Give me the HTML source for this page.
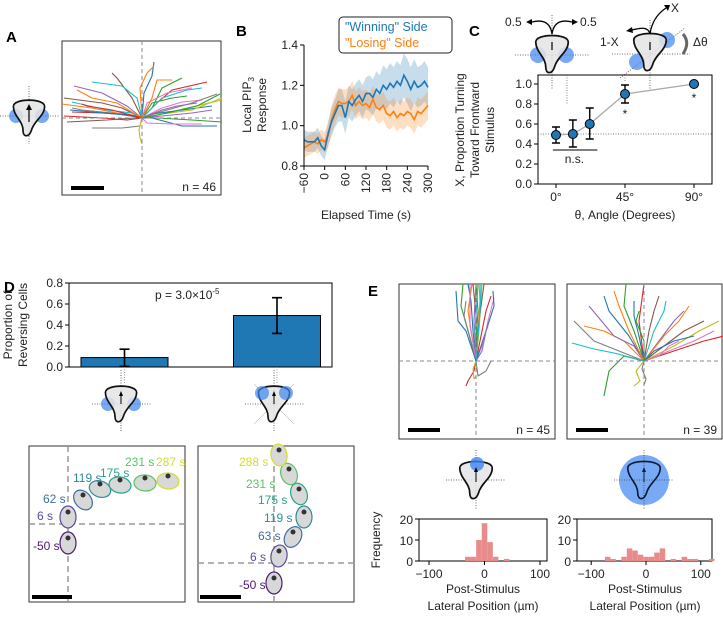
<!DOCTYPE html>
<html><head><meta charset="utf-8"><style>
body{margin:0;background:#fff}
svg{display:block;font-family:"Liberation Sans","DejaVu Sans",sans-serif}
.t{font-size:12px;fill:#222}
.lab{font-size:15px;font-weight:bold;fill:#000}
</style></head><body>
<svg id="fig" width="723" height="618" viewBox="0 0 723 618" xmlns="http://www.w3.org/2000/svg">
<defs>
<symbol id="cell" overflow="visible"><path d="M-13,-8 C-13,-15 13,-15 13,-8 C13,0 4,4 2,12 C0,18 -5,18 -5,12 C-5,4 -13,0 -13,-8 Z" fill="#e4e4e4" fill-opacity="0.85" stroke="#111" stroke-width="1.4"/></symbol>
</defs>
<!-- panel labels -->
<text class="lab" x="6" y="42">A</text>
<text class="lab" x="236" y="36">B</text>
<text class="lab" x="469" y="36">C</text>
<text class="lab" x="4" y="292">D</text>
<text class="lab" x="368" y="296">E</text>

<!-- Panel A -->
<g>
<line x1="0" y1="116" x2="60" y2="116" stroke="#444" stroke-dasharray="1,1.5" stroke-width="0.8"/>
<line x1="29" y1="86" x2="29" y2="144" stroke="#444" stroke-dasharray="1,1.5" stroke-width="0.8"/>
<circle cx="16" cy="116" r="7" fill="#3d85f0" fill-opacity="0.7"/><circle cx="42" cy="116" r="7" fill="#3d85f0" fill-opacity="0.7"/>
<use href="#cell" transform="translate(29,116) scale(1.2)"/>
<line x1="29" y1="122" x2="29" y2="108" stroke="#000" stroke-width="1.2"/><path d="M26,110 L29,104 L32,110Z"/>
</g>
<rect x="62" y="41" width="159" height="154" fill="#fff" stroke="#333" stroke-width="1"/>
<g id="aTracks"></g>
<line x1="142" y1="41" x2="142" y2="195" stroke="#888" stroke-dasharray="4,3"/>
<line x1="62" y1="118" x2="221" y2="118" stroke="#888" stroke-dasharray="4,3"/>
<line x1="71" y1="188" x2="104" y2="188" stroke="#000" stroke-width="4"/>
<text class="t" x="216" y="191" text-anchor="end" font-size="13">n = 46</text>

<!-- Panel B -->
<g id="panelB"></g>
<text class="t" transform="translate(251,105) rotate(-90)" text-anchor="middle">Local PIP<tspan font-size="8" dy="3">3</tspan></text>
<text class="t" transform="translate(266,105) rotate(-90)" text-anchor="middle">Response</text>
<text class="t" x="366" y="219" text-anchor="middle">Elapsed Time (s)</text>
<g>
<rect x="339" y="17" width="113" height="36" rx="4" fill="#fff" stroke="#222"/>
<text x="345" y="31" font-size="12.5" fill="#1f77b4">"Winning" Side</text>
<text x="345" y="47" font-size="12.5" fill="#ff7f0e">"Losing" Side</text>
</g>

<!-- Panel C -->
<g>
<line x1="515" y1="55" x2="590" y2="55" stroke="#444" stroke-dasharray="1,1.5" stroke-width="0.8"/>
<line x1="552" y1="15" x2="552" y2="90" stroke="#444" stroke-dasharray="1,1.5" stroke-width="0.8"/>
<circle cx="538" cy="55" r="8" fill="#3d85f0" fill-opacity="0.7"/><circle cx="566" cy="55" r="8" fill="#3d85f0" fill-opacity="0.7"/>
<use href="#cell" transform="translate(552,52) scale(1.25)"/>
<line x1="552" y1="50" x2="552" y2="42" stroke="#000" stroke-width="1.2"/>
<path d="M552,34 C550,20 540,20 532,22 M552,34 C554,20 564,20 572,22" fill="none" stroke="#000" stroke-width="1.3"/>
<path d="M532,19 L526,22 L532,25Z M572,19 L578,22 L572,25Z"/>
<text class="t" x="505" y="26" font-size="13">0.5</text><text class="t" x="580" y="26" font-size="13">0.5</text>
<line x1="612" y1="54" x2="690" y2="54" stroke="#444" stroke-dasharray="1,1.5" stroke-width="0.8"/>
<line x1="650" y1="20" x2="650" y2="90" stroke="#444" stroke-dasharray="1,1.5" stroke-width="0.8"/>
<line x1="620" y1="78" x2="685" y2="28" stroke="#444" stroke-dasharray="1,1.5" stroke-width="0.8"/>
<circle cx="637" cy="62" r="8" fill="#3d85f0" fill-opacity="0.7"/><circle cx="667" cy="40" r="8" fill="#3d85f0" fill-opacity="0.7"/>
<use href="#cell" transform="translate(650,50) scale(1.25)"/>
<line x1="650" y1="50" x2="650" y2="42" stroke="#000" stroke-width="1.2"/>
<path d="M650,34 C648,26 640,28 632,30 M650,34 C652,20 660,12 666,8" fill="none" stroke="#000" stroke-width="1.3"/>
<path d="M632,27 L626,31 L633,33Z M664,5 L670,5 L668,11Z"/>
<text class="t" x="671" y="12" font-size="13">X</text><text class="t" x="600" y="46" font-size="13">1-X</text>
<path d="M683,54 C688,46 688,40 683,34" fill="none" stroke="#666" stroke-width="3"/>
<text class="t" x="693" y="46" font-size="13">Δθ</text>
</g>
<g id="panelC"></g>
<text class="t" transform="translate(464,130) rotate(-90)" text-anchor="middle">X, Proportion Turning</text>
<text class="t" transform="translate(479,130) rotate(-90)" text-anchor="middle">Toward Frontward</text>
<text class="t" transform="translate(494,130) rotate(-90)" text-anchor="middle">Stimulus</text>
<text class="t" x="625" y="219" text-anchor="middle">θ, Angle (Degrees)</text>

<!-- Panel D -->
<g id="panelD"></g>
<text class="t" transform="translate(12,325) rotate(-90)" text-anchor="middle">Proportion of</text>
<text class="t" transform="translate(27,325) rotate(-90)" text-anchor="middle">Reversing Cells</text>
<text class="t" x="155" y="299">p = 3.0×10<tspan font-size="8" dy="-5">-5</tspan></text>
<g>
<line x1="92" y1="404" x2="152" y2="404" stroke="#444" stroke-dasharray="1,1.5" stroke-width="0.8"/>
<line x1="121" y1="370" x2="121" y2="432" stroke="#444" stroke-dasharray="1,1.5" stroke-width="0.8"/>
<circle cx="108" cy="404" r="7" fill="#3d85f0" fill-opacity="0.7"/><circle cx="134" cy="404" r="7" fill="#3d85f0" fill-opacity="0.7"/>
<use href="#cell" transform="translate(121,402) scale(1.2)"/><line x1="121" y1="404" x2="121" y2="394" stroke="#000"/><path d="M119,396 L121,391 L123,396Z"/>
</g>
<g>
<line x1="245" y1="404" x2="305" y2="404" stroke="#444" stroke-dasharray="1,1.5" stroke-width="0.8"/>
<line x1="274" y1="370" x2="274" y2="432" stroke="#444" stroke-dasharray="1,1.5" stroke-width="0.8"/>
<line x1="254" y1="384" x2="294" y2="424" stroke="#999" stroke-width="0.5"/><line x1="294" y1="384" x2="254" y2="424" stroke="#999" stroke-width="0.5"/>
<use href="#cell" transform="translate(274,402) scale(1.2)"/>
<circle cx="262" cy="393" r="7" fill="#3d85f0" fill-opacity="0.7"/><circle cx="286" cy="393" r="7" fill="#3d85f0" fill-opacity="0.7"/>
<line x1="274" y1="404" x2="274" y2="394" stroke="#000"/><path d="M272,396 L274,391 L276,396Z"/>
</g>
<rect x="29" y="446" width="156" height="156" fill="#fff" stroke="#333"/>
<rect x="198" y="446" width="156" height="156" fill="#fff" stroke="#333"/>
<line x1="68" y1="446" x2="68" y2="602" stroke="#999" stroke-dasharray="6,4" stroke-width="1.5"/>
<line x1="29" y1="524" x2="185" y2="524" stroke="#999" stroke-dasharray="6,4" stroke-width="1.5"/>
<line x1="274" y1="446" x2="274" y2="602" stroke="#999" stroke-dasharray="6,4" stroke-width="1.5"/>
<line x1="198" y1="563" x2="354" y2="563" stroke="#999" stroke-dasharray="6,4" stroke-width="1.5"/>
<g id="dCells"></g>
<line x1="32" y1="597" x2="72" y2="597" stroke="#000" stroke-width="4"/>
<line x1="200" y1="597" x2="241" y2="597" stroke="#000" stroke-width="4"/>

<!-- Panel E -->
<rect x="399" y="284" width="156" height="155" fill="#fff" stroke="#333"/>
<rect x="567" y="284" width="155" height="155" fill="#fff" stroke="#333"/>
<g id="eTracks"></g>
<line x1="476" y1="284" x2="476" y2="439" stroke="#888" stroke-dasharray="4,3"/>
<line x1="399" y1="361" x2="555" y2="361" stroke="#888" stroke-dasharray="4,3"/>
<line x1="644" y1="284" x2="644" y2="439" stroke="#888" stroke-dasharray="4,3"/>
<line x1="567" y1="361" x2="722" y2="361" stroke="#888" stroke-dasharray="4,3"/>
<line x1="408" y1="430" x2="440" y2="430" stroke="#000" stroke-width="4"/>
<line x1="576" y1="430" x2="608" y2="430" stroke="#000" stroke-width="4"/>
<text class="t" x="550" y="434" text-anchor="end" font-size="13">n = 45</text>
<text class="t" x="717" y="434" text-anchor="end" font-size="13">n = 39</text>
<g>
<line x1="446" y1="480" x2="506" y2="480" stroke="#444" stroke-dasharray="1,1.5" stroke-width="0.8"/>
<line x1="476" y1="450" x2="476" y2="510" stroke="#444" stroke-dasharray="1,1.5" stroke-width="0.8"/>
<use href="#cell" transform="translate(476,478) scale(1.25)"/>
<circle cx="477" cy="464" r="7" fill="#3d85f0" fill-opacity="0.8"/>
<line x1="476" y1="482" x2="476" y2="470" stroke="#000"/><path d="M474,472 L476,467 L478,472Z"/>
</g>
<g>
<circle cx="644" cy="480" r="25" fill="#3d85f0" fill-opacity="0.7"/>
<line x1="614" y1="480" x2="674" y2="480" stroke="#444" stroke-dasharray="1,1.5" stroke-width="0.8"/>
<line x1="644" y1="450" x2="644" y2="510" stroke="#444" stroke-dasharray="1,1.5" stroke-width="0.8"/>
<path transform="translate(644,478) scale(1.25)" d="M-13,-8 C-13,-15 13,-15 13,-8 C13,0 4,4 2,12 C0,18 -5,18 -5,12 C-5,4 -13,0 -13,-8 Z" fill="none" stroke="#0a1a3a" stroke-width="1.3"/>
<line x1="644" y1="482" x2="644" y2="470" stroke="#0a1a3a"/><path d="M642,472 L644,467 L646,472Z" fill="#0a1a3a"/>
</g>
<g id="panelE"></g>
<text class="t" transform="translate(380,540) rotate(-90)" text-anchor="middle">Frequency</text>
<text class="t" x="483" y="593" text-anchor="middle">Post-Stimulus</text>
<text class="t" x="483" y="610" text-anchor="middle">Lateral Position (µm)</text>
<text class="t" x="645" y="593" text-anchor="middle">Post-Stimulus</text>
<text class="t" x="645" y="610" text-anchor="middle">Lateral Position (µm)</text>
</svg>
<script>
const NS='http://www.w3.org/2000/svg';
// ---- Panel B data ----
const bTimes=[-60,-50,-40,-30,-20,-10,0,10,20,30,40,50,60,70,80,90,100,110,120,130,140,150,160,170,180,190,200,210,220,230,240,250,260,270,280,290,300];
const bWinning=[0.93,0.92,0.92,0.92,0.94,0.90,0.88,0.96,1.02,1.06,1.10,1.10,1.04,1.12,1.10,1.13,1.15,1.12,1.16,1.16,1.14,1.18,1.16,1.20,1.18,1.21,1.19,1.22,1.20,1.25,1.22,1.18,1.22,1.19,1.20,1.22,1.19];
const bLosing=[0.89,0.90,0.91,0.92,0.91,0.93,0.92,0.95,1.03,1.08,1.12,1.11,1.11,1.12,1.15,1.10,1.12,1.10,1.11,1.09,1.13,1.09,1.08,1.10,1.06,1.05,1.07,1.04,1.06,1.05,1.07,1.06,1.03,1.07,1.06,1.08,1.10];
const bWinErr=[0.05,0.05,0.05,0.05,0.05,0.05,0.05,0.06,0.07,0.07,0.08,0.08,0.08,0.08,0.08,0.08,0.08,0.08,0.08,0.09,0.09,0.09,0.09,0.10,0.10,0.10,0.10,0.10,0.10,0.11,0.11,0.11,0.11,0.10,0.10,0.10,0.10];
const bLoseErr=[0.05,0.05,0.05,0.05,0.05,0.05,0.05,0.06,0.07,0.07,0.07,0.07,0.07,0.07,0.07,0.07,0.07,0.07,0.07,0.07,0.07,0.07,0.07,0.07,0.07,0.07,0.07,0.07,0.07,0.07,0.07,0.07,0.07,0.07,0.07,0.07,0.07];
const bYTicks=[0.8,1.0,1.2,1.4];
const bXTicks=[-60,0,60,120,180,240,300];
// ---- Panel C data ----
const cAngles=[0,11,22,45,90];
const cValues=[0.49,0.50,0.60,0.90,1.00];
const cLow=[0.41,0.37,0.45,0.81,1.00];
const cHigh=[0.57,0.64,0.76,0.99,1.00];
const cYTicks=[0.0,0.2,0.4,0.6,0.8,1.0];
const cXTicks=[0,45,90];
// ---- Panel D data ----
const dCategories=['side','front'];
const dValues=[0.09,0.49];
const dLow=[0.005,0.32];
const dHigh=[0.17,0.66];
const dYTicks=[0.0,0.2,0.4,0.6,0.8];
// ---- Panel E data ----
const eLeftBins=[-35,-25,-15,-5,5,15,25,35];
const eLeftCounts=[2,2,10,18,9,2,0,1];
const eRightBins=[-75,-65,-55,-45,-35,-25,-15,-5,5,15,25,35,45,55,65,75,85,95,105,115];
const eRightCounts=[2,1,0,2,6,5,3,2,2,4,6,0,1,0,2,1,1,0,0,1];
const eYTicks=[0,10,20];
const eXTicks=[-100,0,100];

function mk(tag,attrs,parent){const e=document.createElementNS(NS,tag);for(const k in attrs)e.setAttribute(k,attrs[k]);parent.appendChild(e);return e;}
function txt(parent,x,y,s,anchor,extra){const e=mk('text',Object.assign({x:x,y:y,'class':'t','text-anchor':anchor||'middle'},extra||{}),parent);e.textContent=s;return e;}

// ---- Panel B ----
(function(){
const g=document.getElementById('panelB');
const L=304,R=428,T=45,B=166;
const xs=t=>L+(t+60)/360*(R-L), ys=v=>B-(v-0.8)/0.6*(B-T);
function band(vals,err,color,name){
 let d='M';bTimes.forEach((t,i)=>d+=xs(t)+','+ys(vals[i]+err[i])+' L');
 for(let i=bTimes.length-1;i>=0;i--)d+=xs(bTimes[i])+','+ys(vals[i]-err[i])+(i?' L':' Z');
 const p=mk('path',{d:d,fill:color,'fill-opacity':0.25},g);
 
 
}
function line(vals,color,name){
 const p=mk('polyline',{points:bTimes.map((t,i)=>xs(t)+','+ys(vals[i])).join(' '),fill:'none',stroke:color,'stroke-width':1.6},g);
 
 
}
band(bWinning,bWinErr,'#1f77b4','winning-band');band(bLosing,bLoseErr,'#ff7f0e','losing-band');
line(bLosing,'#ff7f0e','losing-line');line(bWinning,'#1f77b4','winning-line');
mk('line',{x1:L,y1:T,x2:L,y2:B,stroke:'#000'},g);mk('line',{x1:L,y1:B,x2:R,y2:B,stroke:'#000'},g);
bYTicks.forEach(v=>{mk('line',{x1:L-4,y1:ys(v),x2:L,y2:ys(v),stroke:'#000'},g);const t=txt(g,L-6,ys(v)+4,v.toFixed(1),'end');});
bXTicks.forEach(v=>{mk('line',{x1:xs(v),y1:B,x2:xs(v),y2:B+4,stroke:'#000'},g);const t=txt(g,0,0,(v<0?'\u2212'+(-v):''+v),'end',{transform:'translate('+(xs(v)+4)+','+(B+7)+') rotate(-90)'});});
})();

// ---- Panel C ----
(function(){
const g=document.getElementById('panelC');
const L=538,R=712,T=75,B=184;
const xs=a=>556+a/90*138, ys=v=>B-v*100;
mk('rect',{x:L,y:T,width:R-L,height:B-T,fill:'none',stroke:'#000'},g);
mk('line',{x1:L,y1:ys(0.5),x2:R,y2:ys(0.5),stroke:'#555','stroke-dasharray':'1,1.5','stroke-width':0.8},g);
mk('line',{x1:xs(45),y1:T,x2:xs(45),y2:ys(cValues[3])-12,stroke:'#555','stroke-dasharray':'1,1.5','stroke-width':0.7},g);
mk('line',{x1:xs(90)-127,y1:T,x2:xs(90)-127,y2:ys(1.0)+20,stroke:'#555','stroke-dasharray':'1,1.5','stroke-width':0.7},g);
mk('polyline',{points:cAngles.slice(2).map((a,i)=>xs(a)+','+ys(cValues[i+2])).join(' '),fill:'none',stroke:'#aaa','stroke-width':1.3},g);
mk('line',{x1:xs(0),y1:ys(cValues[0]),x2:xs(cAngles[1]),y2:ys(cValues[1]),stroke:'#aaa','stroke-width':1.3},g);
mk('line',{x1:xs(cAngles[1]),y1:ys(cValues[1]),x2:xs(cAngles[2]),y2:ys(cValues[2]),stroke:'#aaa','stroke-width':1.3},g);
cAngles.forEach((a,i)=>{
 const x=xs(a);
 const eb=mk('path',{d:'M'+x+','+ys(cLow[i])+' V'+ys(cHigh[i])+' M'+(x-4)+','+ys(cLow[i])+' h8 M'+(x-4)+','+ys(cHigh[i])+' h8',stroke:'#000','stroke-width':1.4,fill:'none'},g);
 
 
 const c=mk('circle',{cx:x,cy:ys(cValues[i]),r:4.5,fill:'#1f77b4',stroke:'#000','stroke-width':1},g);
 
 
});
txt(g,xs(45),ys(cValues[3])+24,'*','middle',{'font-size':'14'});
txt(g,xs(90),ys(1)+18,'*','middle',{'font-size':'14'});
mk('line',{x1:xs(-2),y1:ys(0.34),x2:xs(27),y2:ys(0.34),stroke:'#000'},g);
txt(g,xs(12),ys(0.25)+4,'n.s.','middle');
cYTicks.forEach(v=>{mk('line',{x1:L-4,y1:ys(v),x2:L,y2:ys(v),stroke:'#000'},g);const t=txt(g,L-6,ys(v)+4,v.toFixed(1),'end');});
cXTicks.forEach(v=>{mk('line',{x1:xs(v),y1:B,x2:xs(v),y2:B+4,stroke:'#000'},g);const t=txt(g,xs(v),B+17,v+'°','middle');});
})();

// ---- Panel D ----
(function(){
const g=document.getElementById('panelD');
const L=69,R=332,T=283,B=367;
const ys=v=>B-v/0.8*(B-T);
const centers=[124.5,277], bw=87;
mk('rect',{x:L,y:T,width:R-L,height:B-T,fill:'none',stroke:'#000'},g);
dValues.forEach((v,i)=>{
 const r=mk('rect',{x:centers[i]-bw/2,y:ys(v),width:bw,height:B-ys(v),fill:'#1f77b4',stroke:'#000','stroke-width':1},g);
 
 
 const eb=mk('path',{d:'M'+centers[i]+','+ys(dLow[i])+' V'+ys(dHigh[i])+' M'+(centers[i]-5)+','+ys(dLow[i])+' h10 M'+(centers[i]-5)+','+ys(dHigh[i])+' h10',stroke:'#000','stroke-width':1.6,fill:'none'},g);
 
 
});
dYTicks.forEach(v=>{mk('line',{x1:L-4,y1:ys(v),x2:L,y2:ys(v),stroke:'#000'},g);const t=txt(g,L-6,ys(v)+4,v.toFixed(1),'end');});
mk('line',{x1:centers[0],y1:B,x2:centers[0],y2:B+16,stroke:'#999','stroke-dasharray':'1,1.5'},g);
mk('line',{x1:centers[1],y1:B,x2:centers[1],y2:B+16,stroke:'#999','stroke-dasharray':'1,1.5'},g);
})();

// ---- Panel D timelapse cells ----
(function(){
const g=document.getElementById('dCells');
const cells=[
 ['-50 s',68,543,'#4b1a6e',33,550,0],['6 s',68,517,'#5b4a9c',37,520,0],['62 s',83,500,'#3f6da3',43,503,-40],['119 s',100,489,'#2e8b9a',73,482,-70],['175 s',120,485,'#27a58a',100,477,-80],['231 s',145,483,'#5cc463',125,466,-85],['287 s',168,481,'#d6dd2a',156,466,-85],
 ['-50 s',274,583,'#4b1a6e',239,589,0],['6 s',279,556,'#5b4a9c',250,561,10],['63 s',293,537,'#3f6da3',258,540,30],['119 s',304,517,'#2e8b9a',264,522,0],['175 s',299,494,'#27a58a',258,504,-20],['231 s',289,474,'#5cc463',246,488,-20],['288 s',279,455,'#d6dd2a',239,466,-10]];
cells.forEach(c=>{
 const e=mk('ellipse',{cx:c[1],cy:c[2],rx:8,ry:11,fill:'#d8d8d8',stroke:c[3],'stroke-width':1.2,transform:'rotate('+c[6]+','+c[1]+','+c[2]+')'},g);
 
 
 mk('circle',{cx:c[1],cy:c[2]-5,r:2.5,fill:'#333'},g);
 const t=txt(g,c[4],c[5],c[0],'start',{'font-size':'12.5',fill:c[3],style:'fill:'+c[3]});
 
 
});
})();

// ---- Panel E histograms ----
(function(){
const g=document.getElementById('panelE');
function hist(L,R,x0,sc,bins,counts,name){
 const T=519,B=561,ys=v=>B-v*2.1,xs=v=>x0+v*sc;
 mk('rect',{x:L,y:T,width:R-L,height:B-T,fill:'none',stroke:'#000'},g);
 bins.forEach((b,i)=>{ if(!counts[i])return;
  const r=mk('rect',{x:xs(b),y:ys(counts[i]),width:10*sc,height:B-ys(counts[i]),fill:'#e88b8b'},g);
  
  
 });
 eYTicks.forEach(v=>{mk('line',{x1:L-4,y1:ys(v),x2:L,y2:ys(v),stroke:'#000'},g);const t=txt(g,L-6,ys(v)+5,''+v,'end',{'font-size':'13'});});
 eXTicks.forEach(v=>{mk('line',{x1:xs(v),y1:B,x2:xs(v),y2:B+4,stroke:'#000'},g);const t=txt(g,xs(v),B+17,(v<0?'\u2212'+(-v):''+v),'middle',{'font-size':'13'});});
}
hist(419,547,484.5,0.555,eLeftBins,eLeftCounts,'e-left-hist');
hist(577,712,646,0.548,eRightBins,eRightCounts,'e-right-hist');
})();

// ---- trajectories (A and E) ----
const colors=['#1f77b4','#ff7f0e','#2ca02c','#d62728','#9467bd','#8c564b','#e377c2','#7f7f7f','#bcbd22','#17becf'];
function tracks(gid,ox,oy,list,name){
 const g=document.getElementById(gid);
 list.forEach((pts,i)=>{
  let d='M'+ox+','+oy;
  for(let k=0;k<pts.length;k+=2)d+=' L'+(ox+pts[k])+','+(oy+pts[k+1]);
  const p=mk('path',{d:d,fill:'none',stroke:colors[i%10],'stroke-width':1.1,'stroke-linejoin':'round'},g);
  
  
 });
}
const aPaths=[
 [2,-25,10,-42,12,-56],[-2,-30,5,-45,12,-52],[10,-10,20,-30,40,-40],[15,-15,30,-28,65,-36],[-15,-12,-40,-25,-68,-32],[-20,-10,-40,-15,-78,-20],
 [20,-10,40,-16,60,-18],[18,-6,50,-15,75,-24],[12,-2,45,-10,80,-18],[-10,-5,-35,-8,-70,-16],[10,-4,40,-8,70,-12],[-20,-4,-50,-10,-80,-14],
 [15,0,50,2,80,4],[-15,2,-40,0,-78,-2],[20,-2,50,-5,70,-8],[-10,-20,-25,-40,-30,-45],[5,-15,25,-25,50,-30],[-30,-5,-60,-8,-70,-10],
 [20,-4,50,-8,80,-20],[-5,-20,-20,-32,-50,-36],[10,0,40,8,75,8],[-25,-15,-50,-20,-65,-28],[10,-15,30,-20,45,-22],[-10,-3,-40,-5,-70,-6],
 [20,-8,35,-12,55,-15],[-8,0,-35,2,-75,4],[5,5,30,6,60,6],[-2,8,-20,10,-50,10],[-3,12,-2,20,0,26],[20,-20,45,-28,60,-30],
 [-15,-3,-50,-6,-72,-8],[10,-20,15,-38,30,-38],[25,-5,55,-12,78,-24],[-30,-8,-55,-12,-60,-14]];
tracks('aTracks',142,118,aPaths,'a-trajectory');
const eL=[[-3,-30,-5,-60,-8,-77],[2,-30,4,-60,3,-77],[-8,-30,-15,-55,-13,-77],[5,-25,10,-50,15,-65],[-2,-40,0,-77],[1,-35,-3,-77],[8,-20,12,-40,18,-63],[-5,-20,-12,-45,-10,-60],[3,-30,6,-77],[-1,-30,2,-77],[10,-30,18,-55,17,-70],[-4,-25,-8,-50,-4,-77],[0,-20,2,-50,0,-77],[-2,10,-8,20,-10,25],[6,-10,10,-30,12,-35],[3,-40,8,-77],[-6,-35,-6,-77],[2,15,10,10,15,0],[-3,8,-2,18,0,15],[4,-50,5,-77],[-10,-30,-18,-40,-20,-70]];
tracks('eTracks',476,361,eL,'e-left-trajectory');
const eR=[[-15,-25,-35,-50,-40,-65],[-20,-20,-40,-30,-60,-35],[-10,-30,-20,-55,-18,-77],[-5,-40,0,-77],[15,-20,30,-40,40,-50],[20,-15,40,-30,60,-40],[25,-10,50,-20,70,-30],[-25,-10,-50,-20,-70,-40],[30,-15,55,-30,75,-40],[10,-30,20,-50,22,-60],[-5,-25,-10,-45,-10,-60],[20,-25,35,-40,45,-55],[-20,-5,-35,10,-40,35],[30,-10,60,-20,80,-25],[-10,-15,-30,-25,-55,-55],[5,-30,10,-50,15,-65],[15,-5,25,-15,35,-20],[-2,8,2,18,0,24],[-8,10,-4,20,-10,25],[-30,-8,-50,-12,-72,-18],[10,-10,30,-20,50,-25],[-15,-30,-25,-55,-30,-70],[0,-20,-8,-40,-5,-50]];
tracks('eTracks',644,361,eR,'e-right-trajectory');
</script>
</body></html>
